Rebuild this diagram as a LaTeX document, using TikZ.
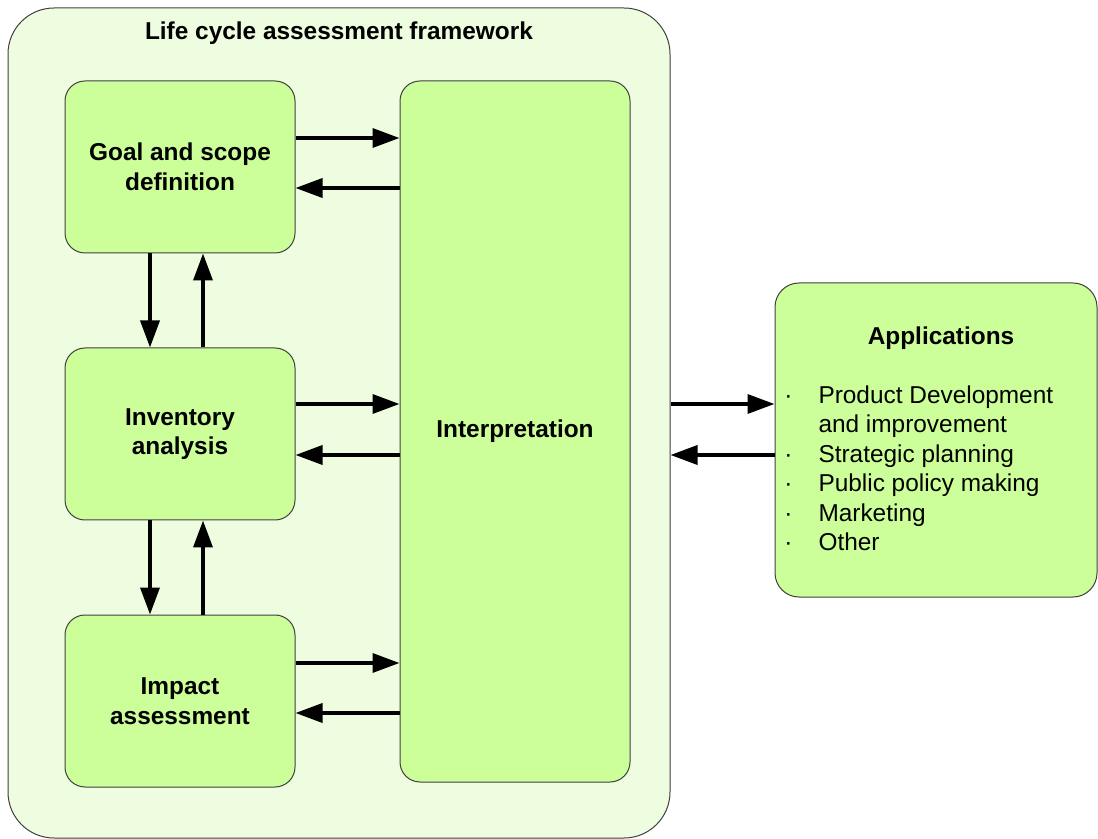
\documentclass[tikz,border=0pt]{standalone}
\usepackage{fontspec}
\setmainfont{Liberation Sans}
\usetikzlibrary{arrows.meta}
\definecolor{boxgreen}{RGB}{204,255,153}
\definecolor{framegreen}{RGB}{238,253,224}
\newcommand\lcafont{\fontsize{12.2pt}{14.75pt}\selectfont}

\begin{document}
\begin{tikzpicture}[x=0.5pt, y=-0.5pt,
  stage/.style={draw=black!75, line width=0.5pt, fill=boxgreen, rounded corners=10pt,
    minimum width=115pt, minimum height=86pt, align=center, inner sep=0pt,
    font=\lcafont\bfseries},
  flow/.style={line width=1.8pt, -{Triangle[length=13.5pt,width=9.5pt]}}]
  \useasboundingbox (0,0) rectangle (1098,839);

  % outer frame and its title
  \node[draw=black!75, line width=0.5pt, fill=framegreen, rounded corners=23pt,
    minimum width=331pt, minimum height=415pt] (lca) at (339,423) {};
  \node[font=\lcafont\bfseries] (title) at (339,33) {Life cycle assessment framework};

  % phases
  \node[stage] (goal) at (180,167) {Goal and scope\\definition};
  \node[stage] (inv) at (180,434) {Inventory\\analysis};
  \node[stage] (impact) at (180,701) {Impact\\assessment};
  \node[stage, minimum height=350.5pt] (interp) at (515,431.5) {Interpretation};

  % applications
  \node[stage, minimum width=161pt, minimum height=157pt, rounded corners=12pt] (apps) at (936,440) {};
  \node[font=\lcafont\bfseries] (appstitle) at (941,338) {Applications};
  \node[font=\lcafont, anchor=north west, inner sep=0pt] (applist) at (784,382) {%
    \begin{tabular}{@{}l@{\hspace{13pt}}l@{}}
      · & Product Development\\
        & and improvement\\
      · & Strategic planning\\
      · & Public policy making\\
      · & Marketing\\
      · & Other
    \end{tabular}};

  % phases <-> interpretation
  \coordinate (g1) at ([yshift=14.5pt]goal.east);
  \coordinate (g2) at ([yshift=-10.5pt]goal.east);
  \coordinate (i1) at ([yshift=15pt]inv.east);
  \coordinate (i2) at ([yshift=-10.5pt]inv.east);
  \coordinate (m1) at ([yshift=19pt]impact.east);
  \coordinate (m2) at ([yshift=-6pt]impact.east);
  \draw[flow] (g1) -- (g1 -| interp.west);
  \draw[flow] (g2 -| interp.west) -- (g2);
  \draw[flow] (i1) -- (i1 -| interp.west);
  \draw[flow] (i2 -| interp.west) -- (i2);
  \draw[flow] (m1) -- (m1 -| interp.west);
  \draw[flow] (m2 -| interp.west) -- (m2);

  % between phases
  \draw[flow] ([xshift=-15pt]goal.south) -- ([xshift=-15pt]inv.north);
  \draw[flow] ([xshift=11.5pt]inv.north) -- ([xshift=11.5pt]goal.south);
  \draw[flow] ([xshift=-15pt]inv.south) -- ([xshift=-15pt]impact.north);
  \draw[flow] ([xshift=11.5pt]impact.north) -- ([xshift=11.5pt]inv.south);

  % framework <-> applications
  \coordinate (a1) at ([yshift=18pt]apps.west);
  \coordinate (a2) at ([yshift=-7.5pt]apps.west);
  \draw[flow] (a1 -| lca.east) -- (a1);
  \draw[flow] (a2) -- (a2 -| lca.east);
\end{tikzpicture}
\end{document}
